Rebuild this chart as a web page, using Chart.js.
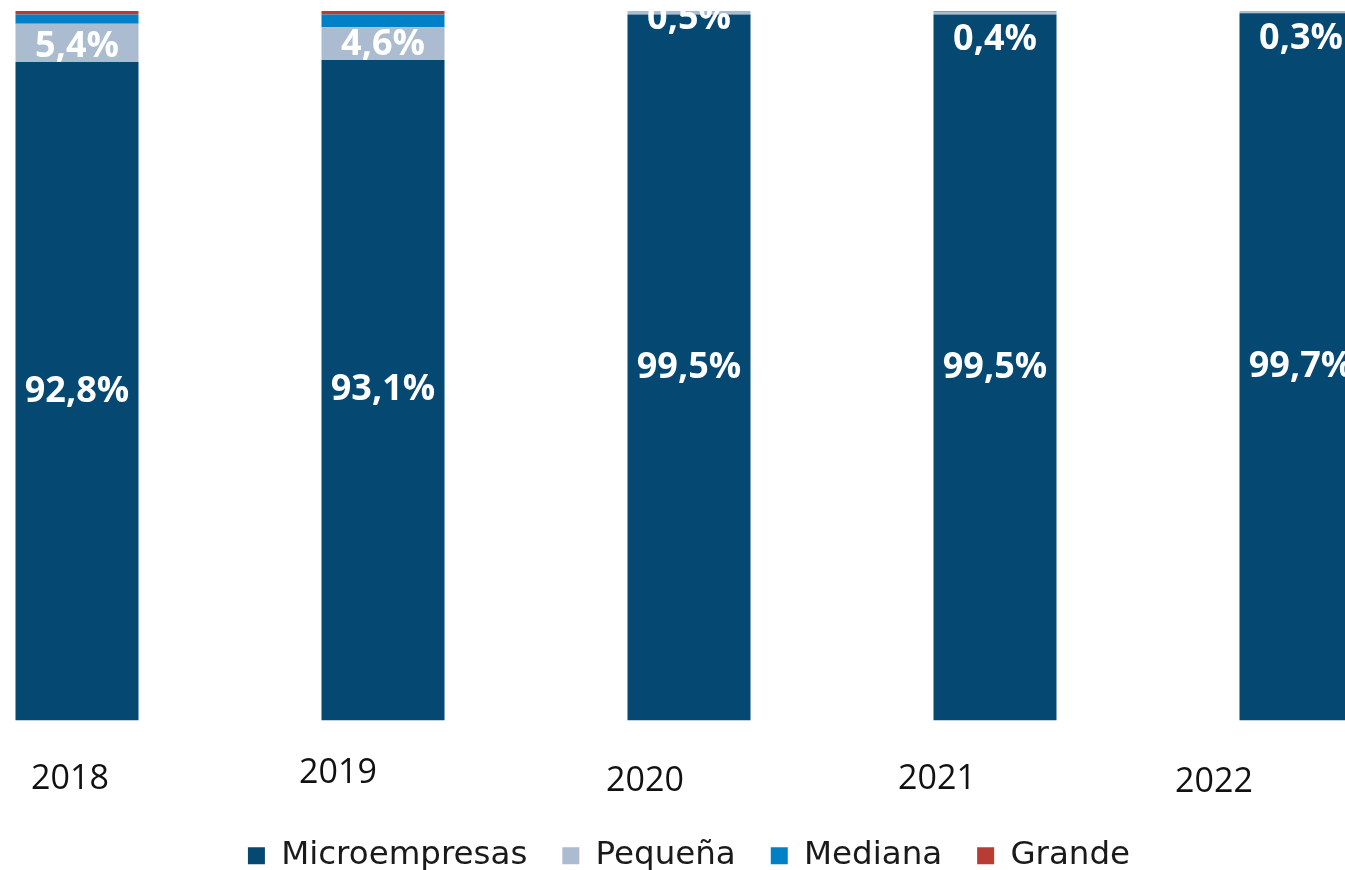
<!DOCTYPE html>
<html>
<head>
<meta charset="utf-8">
<script src="https://cdn.jsdelivr.net/npm/chart.js@4.4.1/dist/chart.umd.min.js"></script>
<style>
html, body { margin: 0; padding: 0; background: #fff; overflow: hidden; }
#wrap { position: absolute; left: -76px; top: 0; width: 1530px; height: 870px; }
</style>
</head>
<body>
<div id="wrap"><canvas id="chart"></canvas></div>
<script>
const years = ['2018', '2019', '2020', '2021', '2022'];
const microempresas = [92.8, 93.1, 99.5, 99.5, 99.7];
const pequena = [5.4, 4.6, 0.5, 0.4, 0.3];
const mediana = [1.3, 1.8, 0, 0.1, 0];
const grande = [0.5, 0.5, 0, 0, 0];

// the year labels in the original sit off-centre, nudge them the same way
const yearDx = [-7, -45, -44, -58, -87];
const yearDy = [0, -6, 2, 0, 3];
// small "Pequeña" labels get pushed down inside the bar
const smallDy = [4, 1, 6, 27, 27];

const fmt = v => v.toFixed(1).replace('.', ',') + '%';

const labelPlugin = {
    id: 'barLabels',
    afterDatasetsDraw(chart) {
        const ctx = chart.ctx;
        const area = chart.chartArea;

        ctx.save();
        ctx.beginPath();
        ctx.rect(area.left, area.top, area.right - area.left, area.bottom - area.top);
        ctx.clip();
        ctx.fillStyle = '#ffffff';
        ctx.font = '700 36px "Open Sans"';
        ctx.textAlign = 'center';
        ctx.textBaseline = 'middle';
        [0, 1].forEach(di => {
            const meta = chart.getDatasetMeta(di);
            const values = chart.data.datasets[di].data;
            meta.data.forEach((bar, i) => {
                const y = (bar.y + bar.base) / 2 + (di === 1 ? smallDy[i] : 0);
                ctx.fillText(fmt(values[i]), bar.x, y);
            });
        });
        ctx.restore();

        ctx.save();
        ctx.fillStyle = '#111111';
        ctx.font = '34px "Open Sans"';
        ctx.textAlign = 'center';
        ctx.textBaseline = 'middle';
        const xScale = chart.scales.x;
        years.forEach((yr, i) => {
            ctx.fillText(yr, xScale.getPixelForValue(i) + yearDx[i], area.bottom + 59 + yearDy[i]);
        });
        ctx.restore();
    }
};

const makeSet = (label, data, color) => ({
    label: label,
    data: data,
    backgroundColor: color,
    borderColor: color,
    borderWidth: 0,
    barPercentage: 1,
    categoryPercentage: 0.402
});

const datasets = [
    makeSet('Microempresas', microempresas, '#054872'),
    makeSet('Pequeña', pequena, '#abbbd0'),
    makeSet('Mediana', mediana, '#0080c6'),
    makeSet('Grande', grande, '#b83c33')
];

new Chart(document.getElementById('chart'), {
    type: 'bar',
    data: {
        labels: years,
        datasets: datasets
    },
    options: {
        responsive: true,
        maintainAspectRatio: false,
        animation: false,
        layout: {
            padding: { top: 11, left: 0, right: 0, bottom: -12 }
        },
        scales: {
            x: {
                stacked: true,
                grid: { display: false, drawTicks: false },
                border: { display: false },
                ticks: { display: false },
                afterFit: scale => { scale.height = 84; }
            },
            y: {
                stacked: true,
                display: false,
                min: 0,
                max: 100
            }
        },
        plugins: {
            legend: {
                position: 'bottom',
                labels: {
                    boxWidth: 17,
                    boxHeight: 17,
                    padding: 35,
                    color: '#1a1a1a',
                    font: { family: 'DejaVu Sans', size: 32.5 }
                }
            },
            tooltip: { enabled: false }
        }
    },
    plugins: [labelPlugin]
});
</script>
</body>
</html>
